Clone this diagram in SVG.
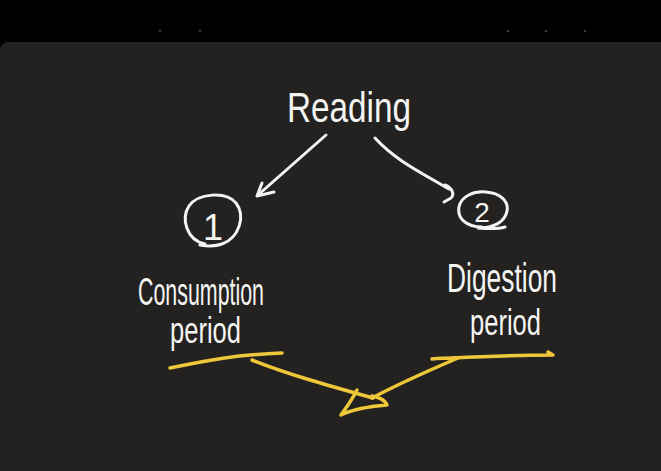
<svg xmlns="http://www.w3.org/2000/svg" width="661" height="471" viewBox="0 0 661 471">
<style>
.hw{font-family:"Liberation Sans","DejaVu Sans",sans-serif;fill:#f4f4f2;}
.ws{fill:none;stroke:#f4f4f2;stroke-width:3;stroke-linecap:round;stroke-linejoin:round;}
.ys{fill:none;stroke:#efc83a;stroke-width:3.5;stroke-linecap:round;stroke-linejoin:round;}
</style>
<rect x="0" y="0" width="661" height="471" fill="#000"/>
<rect x="0" y="42" width="680" height="440" rx="8" fill="#232220"/>
<g fill="#3a3a3a">
<circle cx="160" cy="31" r="1.3"/><circle cx="200" cy="31" r="1.3"/><circle cx="508" cy="31" r="1.3"/><circle cx="546" cy="31" r="1.3"/><circle cx="585" cy="31" r="1.3"/>
</g>
<g id="reading"><text class="hw" x="287" y="122" font-size="42" textLength="124" lengthAdjust="spacingAndGlyphs">Reading</text></g>
<g id="node1">
<path class="ws" d="M205,244 C186,240 181,218 189,206 C198,193 226,191 236,203 C246,216 239,238 222,244 C214,247 206,246 200,245"/>
<text class="hw" x="213" y="240" font-size="36" text-anchor="middle">1</text>
<text class="hw" x="138" y="305" font-size="38" textLength="126" lengthAdjust="spacingAndGlyphs">Consumption</text>
<text class="hw" x="170" y="343" font-size="36" textLength="71" lengthAdjust="spacingAndGlyphs">period</text>
</g>
<g id="node2">
<path class="ws" d="M482,227 C466,227 457,218 459,207 C461,196 474,191 486,192 C500,193 509,201 507,211 C505,222 494,228 478,228 C490,229 498,229 505,227"/>
<text class="hw" x="482" y="222" font-size="28" text-anchor="middle">2</text>
<text class="hw" x="447" y="292" font-size="40" textLength="110" lengthAdjust="spacingAndGlyphs">Digestion</text>
<text class="hw" x="470" y="335" font-size="36" textLength="71" lengthAdjust="spacingAndGlyphs">period</text>
</g>
<g id="connectors">
<path class="ws" d="M326,135 L258,195"/>
<path class="ws" d="M262,183 L257,196 L274,192"/>
<path class="ws" d="M375,138 C395,160 420,172 449,189"/>
<path class="ws" d="M445,185 C452,188 455,194 451,198 L444,202"/>
<path class="ys" d="M170,368 C200,362 230,355 282,353"/>
<path class="ys" d="M252,360 C290,375 330,386 373,398"/>
<path class="ys" d="M357,390 C352,400 346,408 341,415 C355,408 375,406 387,405 C385,400 378,397 372,396"/>
<path class="ys" d="M432,359 C440,358 450,358 458,358 C430,370 400,383 372,398"/>
<path class="ys" d="M452,358 C490,356 520,355 553,355 L548,352"/>
</g>
</svg>
